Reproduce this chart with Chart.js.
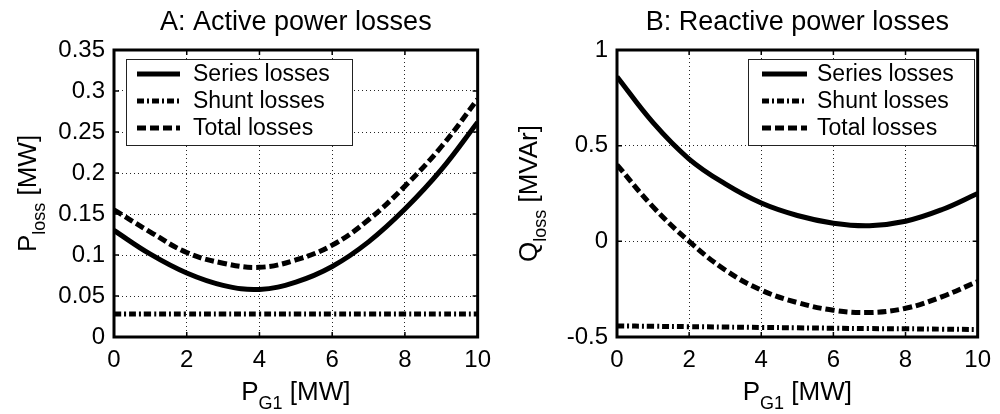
<!DOCTYPE html>
<html>
<head>
<meta charset="utf-8">
<title>Power losses</title>
<script src="https://cdn.jsdelivr.net/npm/chart.js@4.4.1/dist/chart.umd.min.js"></script>
<style>
  body { margin: 0; background: #fff; }
  .panel { position: absolute; top: 0; width: 500px; height: 414px; }
</style>
</head>
<body>
<div class="panel" style="left:0"><canvas id="activeChart" width="500" height="414"></canvas></div>
<div class="panel" style="left:500px"><canvas id="reactiveChart" width="500" height="414"></canvas></div>
<script>
// generator output P_G1 [MW]
var pg1 = [0, 1, 2, 3, 4, 5, 6, 7, 8, 9, 10];

// A: active power losses [MW]
var activeSeries = [0.130, 0.101, 0.078, 0.063, 0.058, 0.067, 0.086, 0.116, 0.156, 0.204, 0.262];
var activeShunt  = [0.028, 0.028, 0.028, 0.028, 0.028, 0.028, 0.028, 0.028, 0.028, 0.028, 0.028];
var activeTotal  = [0.155, 0.128, 0.103, 0.090, 0.085, 0.094, 0.112, 0.143, 0.184, 0.232, 0.290];

// B: reactive power losses [MVAr]
var reactiveSeries = [0.86, 0.62, 0.43, 0.30, 0.20, 0.135, 0.095, 0.082, 0.105, 0.165, 0.25];
var reactiveShunt  = [-0.442, -0.444, -0.446, -0.448, -0.450, -0.452, -0.454, -0.456, -0.457, -0.459, -0.461];
var reactiveTotal  = [0.40, 0.18, 0.0, -0.15, -0.255, -0.32, -0.36, -0.372, -0.35, -0.29, -0.21];

var lossLabels = ['Series losses', 'Shunt losses', 'Total losses'];
var xTicks = { min: 0, max: 10, step: 2 };
var activeTicks = { min: 0, max: 0.35, step: 0.05 };
var reactiveTicks = { min: -0.5, max: 1, step: 0.5 };

Chart.defaults.font.family = "'Liberation Sans', Arial, Helvetica, sans-serif";
Chart.defaults.color = '#000';

function toPoints(ys) {
    return pg1.map(function (x, i) { return { x: x, y: ys[i] }; });
}

// line styles: solid, dash-dot, dashed
var lineStyles = [
    { borderWidth: 5, borderDash: [] },
    { borderWidth: 5, borderDash: [7, 3, 2, 3] },
    { borderWidth: 5, borderDash: [9, 4] }
];

function makeDatasets(series, shunt, total) {
    return [series, shunt, total].map(function (ys, i) {
        return {
            label: lossLabels[i],
            data: toPoints(ys),
            borderColor: '#000',
            borderWidth: lineStyles[i].borderWidth,
            borderDash: lineStyles[i].borderDash,
            borderCapStyle: 'butt',
            pointRadius: 0,
            tension: 0.4,
            fill: false
        };
    });
}

// draw text made of [text, isSubscript] pieces, centred on x
function drawRich(ctx, parts, x, y, size) {
    var subSize = Math.round(size * 0.7);
    var widths = parts.map(function (p) {
        ctx.font = (p[1] ? subSize : size) + "px 'Liberation Sans', Arial, sans-serif";
        return ctx.measureText(p[0]).width;
    });
    var total = widths.reduce(function (a, b) { return a + b; }, 0);
    var cx = x - total / 2;
    ctx.textAlign = 'left';
    ctx.textBaseline = 'alphabetic';
    parts.forEach(function (p, i) {
        ctx.font = (p[1] ? subSize : size) + "px 'Liberation Sans', Arial, sans-serif";
        ctx.fillText(p[0], cx, y + (p[1] ? 9 : 0));
        cx += widths[i];
    });
}

// boxed axes, inward ticks, in-plot legend, titles
var framePlugin = {
    id: 'frame',
    afterDatasetsDraw: function (chart, args, opts) {
        var ctx = chart.ctx, a = chart.chartArea;
        var sx = chart.scales.x, sy = chart.scales.y;
        ctx.save();
        ctx.strokeStyle = '#000';
        ctx.fillStyle = '#000';

        // tick marks pointing inwards on all four sides
        ctx.lineWidth = 1.5;
        ctx.beginPath();
        sx.ticks.forEach(function (t) {
            var px = sx.getPixelForValue(t.value);
            ctx.moveTo(px, a.bottom); ctx.lineTo(px, a.bottom - 5);
            ctx.moveTo(px, a.top); ctx.lineTo(px, a.top + 5);
        });
        sy.ticks.forEach(function (t) {
            var py = sy.getPixelForValue(t.value);
            ctx.moveTo(a.left, py); ctx.lineTo(a.left + 5, py);
            ctx.moveTo(a.right, py); ctx.lineTo(a.right - 5, py);
        });
        ctx.stroke();

        // legend box
        var lg = opts.legend;
        ctx.fillStyle = '#fff';
        ctx.fillRect(lg.left, lg.top, lg.width, lg.height);
        ctx.lineWidth = 1;
        ctx.strokeStyle = '#222';
        ctx.strokeRect(lg.left + 0.5, lg.top + 0.5, lg.width, lg.height);
        ctx.fillStyle = '#000';
        ctx.font = "23px 'Liberation Sans', Arial, sans-serif";
        ctx.textAlign = 'left';
        ctx.textBaseline = 'middle';
        chart.data.datasets.forEach(function (ds, i) {
            var ry = lg.top + 15 + i * 27;
            ctx.save();
            ctx.strokeStyle = '#000';
            ctx.lineWidth = ds.borderWidth;
            ctx.lineCap = 'butt';
            ctx.setLineDash(ds.borderDash);
            ctx.beginPath();
            ctx.moveTo(lg.left + lg.lineFrom, ry);
            ctx.lineTo(lg.left + lg.lineTo, ry);
            ctx.stroke();
            ctx.restore();
            ctx.fillText(ds.label, lg.left + lg.textAt, ry + 1);
        });

        // frame
        ctx.lineWidth = 3;
        ctx.strokeStyle = '#000';
        ctx.strokeRect(a.left, a.top, a.right - a.left, a.bottom - a.top);

        // title
        var midX = (a.left + a.right) / 2;
        var midY = (a.top + a.bottom) / 2;
        ctx.fillStyle = '#000';
        ctx.font = "27px 'Liberation Sans', Arial, sans-serif";
        ctx.textAlign = 'center';
        ctx.textBaseline = 'alphabetic';
        ctx.fillText(opts.title, midX, 30);

        // axis titles
        drawRich(ctx, opts.xTitle, midX, 400, 26);
        ctx.save();
        ctx.translate(a.left - opts.yTitleGap, midY);
        ctx.rotate(-Math.PI / 2);
        drawRich(ctx, opts.yTitle, 0, 0, 26);
        ctx.restore();

        ctx.restore();
    }
};

function makeChart(id, datasets, yRange, yWidth, rightPad, frameOpts) {
    return new Chart(document.getElementById(id), {
        type: 'line',
        data: { datasets: datasets },
        plugins: [framePlugin],
        options: {
            responsive: false,
            animation: false,
            devicePixelRatio: 1,
            layout: { padding: { top: 50, right: rightPad, left: 0, bottom: 0 } },
            plugins: {
                legend: { display: false },
                tooltip: { enabled: false },
                frame: frameOpts
            },
            scales: {
                x: {
                    type: 'linear',
                    min: xTicks.min,
                    max: xTicks.max,
                    afterFit: function (s) { s.height = 77; },
                    ticks: { stepSize: xTicks.step, padding: 9, font: { size: 24 } },
                    grid: { color: 'rgba(0,0,0,0.85)', lineWidth: 1, drawTicks: false },
                    border: { display: false, dash: [1, 3] }
                },
                y: {
                    type: 'linear',
                    min: yRange.min,
                    max: yRange.max,
                    afterFit: function (s) { s.width = yWidth; },
                    ticks: {
                        stepSize: yRange.step,
                        padding: 9,
                        font: { size: 24 },
                        callback: function (v) { return String(+v.toFixed(2)); }
                    },
                    grid: { color: 'rgba(0,0,0,0.85)', lineWidth: 1, drawTicks: false },
                    border: { display: false, dash: [1, 3] }
                }
            }
        }
    });
}

makeChart('activeChart', makeDatasets(activeSeries, activeShunt, activeTotal), activeTicks, 114, 19, {
    title: 'A: Active power losses',
    xTitle: [['P', false], ['G1', true], [' [MW]', false]],
    yTitle: [['P', false], ['loss', true], [' [MW]', false]],
    yTitleGap: 78,
    legend: { left: 126, top: 59, width: 226, height: 86, lineFrom: 11, lineTo: 54, textAt: 67 }
});

makeChart('reactiveChart', makeDatasets(reactiveSeries, reactiveShunt, reactiveTotal), reactiveTicks, 117, 15, {
    title: 'B: Reactive power losses',
    xTitle: [['P', false], ['G1', true], [' [MW]', false]],
    yTitle: [['Q', false], ['loss', true], [' [MVAr]', false]],
    yTitleGap: 80,
    legend: { left: 248, top: 59, width: 226, height: 86, lineFrom: 14, lineTo: 59, textAt: 69 }
});
</script>
</body>
</html>
